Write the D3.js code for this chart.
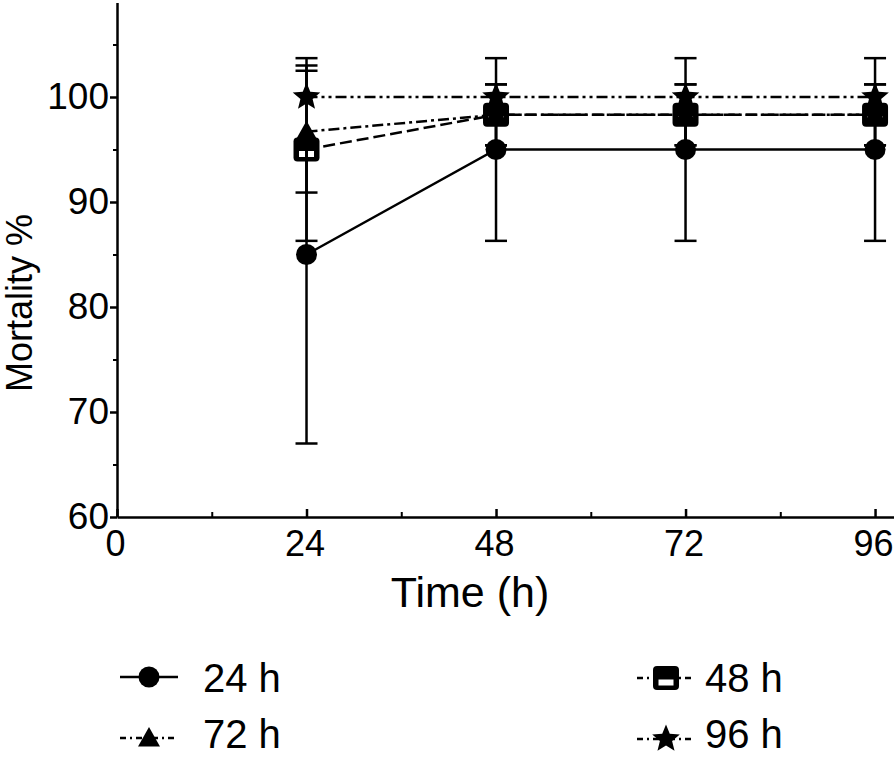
<!DOCTYPE html>
<html><head><meta charset="utf-8">
<script src="https://cdn.jsdelivr.net/npm/d3@7"></script>
<style>
body{margin:0;background:#fff}
svg{display:block;background:#fff}
text{font-family:"Liberation Sans",Arial,Helvetica,sans-serif;fill:#000}
</style>
</head><body>
<svg id="chart" width="894" height="758"></svg>
<script>
// ---- data ----
const times = [24, 48, 72, 96];
const seriesNames = ["24 h", "48 h", "72 h", "96 h"];
const mean24h = [85, 95, 95, 95];
const sd24h   = [18, 8.7, 8.7, 8.7];
const mean48h = [95, 98.3, 98.3, 98.3];
const sd48h   = [8.7, 2.9, 2.9, 2.9];
const mean72h = [96.7, 98.3, 98.3, 98.3];
const sd72h   = [5.8, 2.9, 2.9, 2.9];
const mean96h = [100, 100, 100, 100];
const sd96h   = [0, 0, 0, 0];
const xTickValues = [0, 24, 48, 72, 96];
const xMinorValues = [12, 36, 60, 84];
const yTickValues = [60, 70, 80, 90, 100];
const yMinorValues = [65, 75, 85, 95, 105];
const xLabel = "Time (h)";
const yLabel = "Mortality %";

const seriesMeans = [mean24h, mean48h, mean72h, mean96h];
const seriesSds = [sd24h, sd48h, sd72h, sd96h];
const series = seriesNames.map((n, i) => ({
  name: n,
  points: times.map((t, j) => ({t, m: seriesMeans[i][j], sd: seriesSds[i][j]}))
}));

// ---- styles ----
const style = {
  "24 h": {marker: "circle",   dash: null},
  "48 h": {marker: "square",   dash: "12,5"},
  "72 h": {marker: "triangle", dash: "11,4,3,4"},
  "96 h": {marker: "star",     dash: "11,4,3,4,3,4"}
};
const drawOrder = ["96 h", "48 h", "72 h", "24 h"];

const svg = d3.select("#chart");
const x = d3.scaleLinear().domain([0, 98.4]).range([117, 894]);
const y = d3.scaleLinear().domain([60, 109]).range([517, 2.5]);

function starPath(R, r) {
  const pts = [];
  for (let i = 0; i < 10; i++) {
    const a = -Math.PI / 2 + i * Math.PI / 5;
    const rad = i % 2 === 0 ? R : r;
    pts.push([rad * Math.cos(a), rad * Math.sin(a)]);
  }
  return "M" + pts.map(p => p[0].toFixed(2) + "," + p[1].toFixed(2)).join("L") + "Z";
}

function drawMarker(g, type, cx, cy) {
  const m = g.append("g").attr("transform", `translate(${cx},${cy})`);
  if (type === "circle") {
    m.append("circle").attr("r", 10.5).attr("fill", "#000");
  } else if (type === "square") {
    m.append("rect").attr("x", -13).attr("y", -12).attr("width", 26).attr("height", 24)
      .attr("rx", 4).attr("fill", "#000");
    m.append("rect").attr("x", -7.5).attr("y", 1.5).attr("width", 15).attr("height", 6)
      .attr("fill", "#fff");
  } else if (type === "triangle") {
    m.append("path").attr("d", "M0,-11L11,8.5L-11,8.5Z").attr("fill", "#000");
  } else if (type === "star") {
    m.append("path").attr("d", starPath(14.5, 6.4)).attr("fill", "#000");
  }
}

// ---- axes ----
const axisG = svg.append("g");
const yAxis = d3.axisLeft(y).tickValues(yTickValues).tickSize(7).tickSizeOuter(0).tickPadding(1);
const gy = axisG.append("g").attr("transform", `translate(${x(0)},0)`).call(yAxis);
gy.select(".domain").attr("stroke-width", 2.5);
gy.selectAll(".tick line").attr("stroke-width", 2.5);
gy.selectAll(".tick text").attr("font-size", 37).attr("font-family", "Liberation Sans, Arial, sans-serif");
const yMinorAxis = d3.axisLeft(y).tickValues(yMinorValues).tickSize(4).tickSizeOuter(0).tickFormat("");
const gym = axisG.append("g").attr("transform", `translate(${x(0)},0)`).call(yMinorAxis);
gym.select(".domain").remove();
gym.selectAll(".tick line").attr("stroke-width", 2);

const xAxis = d3.axisBottom(x).tickValues(xTickValues).tickSize(-8).tickSizeOuter(0).tickPadding(13);
const gx = axisG.append("g").attr("transform", `translate(0,${y(60)})`).call(xAxis);
gx.select(".domain").attr("stroke-width", 2.5);
gx.selectAll(".tick line").attr("stroke-width", 2.5);
gx.selectAll(".tick text").attr("font-size", 36).attr("font-family", "Liberation Sans, Arial, sans-serif")
  .attr("dx", -2);
const xMinorAxis = d3.axisBottom(x).tickValues(xMinorValues).tickSize(-5).tickSizeOuter(0).tickFormat("");
const gxm = axisG.append("g").attr("transform", `translate(0,${y(60)})`).call(xMinorAxis);
gxm.select(".domain").remove();
gxm.selectAll(".tick line").attr("stroke-width", 2);

svg.append("text").attr("x", 470).attr("y", 607).attr("text-anchor", "middle")
  .attr("font-size", 43).text(xLabel);
svg.append("text").attr("transform", "translate(32,303) rotate(-90)").attr("text-anchor", "middle")
  .attr("font-size", 36).text(yLabel);

// ---- lines ----
const line = d3.line().x(d => x(d.t)).y(d => y(d.m));
const plot = svg.append("g");
drawOrder.forEach(name => {
  const s = series.find(v => v.name === name);
  plot.append("path").datum(s.points).attr("d", line)
    .attr("fill", "none").attr("stroke", "#000").attr("stroke-width", 2.5)
    .attr("stroke-dasharray", style[name].dash);
});
// ---- markers ----
drawOrder.forEach(name => {
  const s = series.find(v => v.name === name);
  s.points.forEach(p => drawMarker(plot, style[name].marker, x(p.t), y(p.m)));
});
// ---- error bars ----
const capHalf = 11;
series.forEach(s => {
  s.points.filter(p => p.sd > 0).forEach(p => {
    const cx = x(p.t), y1 = y(p.m + p.sd), y2 = y(p.m - p.sd);
    plot.append("line").attr("x1", cx).attr("x2", cx).attr("y1", y1).attr("y2", y2)
      .attr("stroke", "#000").attr("stroke-width", 2.5);
    [y1, y2].forEach(yy => plot.append("line").attr("x1", cx - capHalf).attr("x2", cx + capHalf)
      .attr("y1", yy).attr("y2", yy).attr("stroke", "#000").attr("stroke-width", 2.5));
  });
});

// ---- legend ----
const legendPos = {
  "24 h": {lx: 120, ly: 677, tx: 203, ty: 692},
  "72 h": {lx: 120, ly: 738, tx: 203, ty: 748},
  "48 h": {lx: 637, ly: 678, tx: 705, ty: 692},
  "96 h": {lx: 637, ly: 739, tx: 705, ty: 748}
};
const leg = svg.append("g");
seriesNames.forEach(name => {
  const p = legendPos[name];
  leg.append("line").attr("x1", p.lx).attr("x2", p.lx + 58).attr("y1", p.ly).attr("y2", p.ly)
    .attr("stroke", "#000").attr("stroke-width", 2.5).attr("stroke-dasharray", style[name].dash ? "6,4,2,4" : null);
  drawMarker(leg, style[name].marker, p.lx + 29, p.ly);
  leg.append("text").attr("x", p.tx).attr("y", p.ty).attr("font-size", 40).text(name);
});
</script>
</body></html>
